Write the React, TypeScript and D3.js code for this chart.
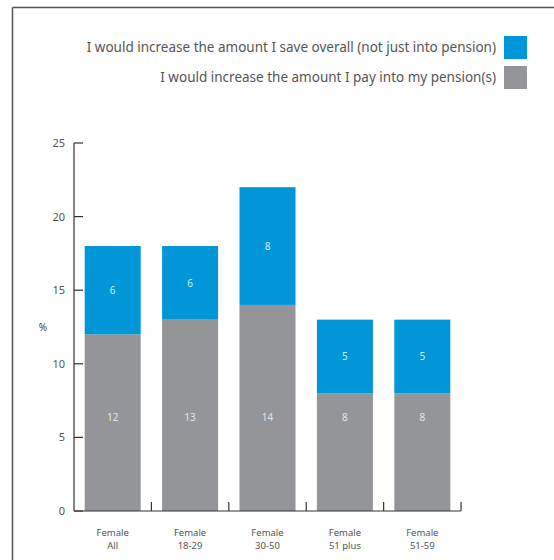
import React from "react";
import * as d3 from "d3";

const categories = ["Female|All", "Female|18-29", "Female|30-50", "Female|51 plus", "Female|51-59"];
// bar heights as drawn in the reference
const payPension = [12, 13, 14, 8, 8];
const saveOverall = [6, 5, 8, 5, 5];
// printed (rounded) labels as shown in the reference
const payLabels = ["12", "13", "14", "8", "8"];
const saveLabels = ["6", "6", "8", "5", "5"];
const yTicks = [0, 5, 10, 15, 20, 25];
const seriesNames = [
  "I would increase the amount I save overall (not just into pension)",
  "I would increase the amount I pay into my pension(s)",
];

const BLUE = "#0096d7";
const GREY = "#939598";
const FONT = "'Noto Sans', sans-serif";

export default function App() {
  const W = 554, H = 560;
  const x0 = 74, x1 = 461, yTop = 143, yBot = 511;
  const x = d3.scaleBand<string>().domain(categories).range([x0, x1]).paddingInner(0.2765).paddingOuter(0.138);
  const y = d3.scaleLinear().domain([0, 25]).range([yBot, yTop]);
  const step = x.step();
  const boundaries = categories.map((_, i) => x0 + step * (i + 1));

  return (
    <svg width={W} height={H} style={{ position: "absolute", left: 0, top: 0, background: "#fff" }} fontFamily={FONT}>
      {/* frame */}
      <line x1={12.5} x2={W} y1={7.5} y2={7.5} stroke="#555" strokeWidth={1.5} />
      <line x1={12.5} x2={12.5} y1={7.5} y2={H} stroke="#555" strokeWidth={1.5} />

      {/* legend */}
      {seriesNames.map((s, i) => (
        <g key={s}>
          <text x={496} y={52 + i * 30} textAnchor="end" fontSize={13.5} fill="#555">{s}</text>
          <rect x={504} y={36 + i * 30} width={23} height={23} fill={i === 0 ? BLUE : GREY} />
        </g>
      ))}

      {/* bars */}
      {categories.map((c, i) => {
        const bx = x(c)!;
        const bw = x.bandwidth();
        const p = payPension[i], s = saveOverall[i];
        return (
          <g key={c}>
            <rect x={bx} y={y(p)} width={bw} height={y(0) - y(p)} fill={GREY} />
            <rect x={bx} y={y(p + s)} width={bw} height={y(p) - y(p + s)} fill={BLUE} />
            <text x={bx + bw / 2} y={y(6.4) + 4} textAnchor="middle" fontSize={10} fill="#e4e4e6">{payLabels[i]}</text>
            <text x={bx + bw / 2} y={(y(p) + y(p + s)) / 2 + 4} textAnchor="middle" fontSize={10} fill="#d4ecfa">{saveLabels[i]}</text>
            {c.split("|").map((t, j) => (
              <text key={j} x={bx + bw / 2} y={535.5 + j * 13} textAnchor="middle" fontSize={9.5} fill="#555">{t}</text>
            ))}
          </g>
        );
      })}

      {/* y axis */}
      <line x1={x0} x2={x0} y1={yTop} y2={yBot} stroke="#333" strokeWidth={1.2} />
      {yTicks.map((t) => (
        <g key={t}>
          <line x1={x0} x2={x0 + 9} y1={y(t)} y2={y(t)} stroke="#333" strokeWidth={1.2} />
          <text x={65} y={y(t) + 4} textAnchor="end" fontSize={11} fill="#555">{t}</text>
        </g>
      ))}
      <text x={43} y={331} textAnchor="middle" fontSize={10} fill="#444">%</text>

      {/* x axis */}
      <line x1={x0} x2={x1} y1={yBot} y2={yBot} stroke="#333" strokeWidth={1.2} />
      {boundaries.map((b, i) => (
        <line key={i} x1={b} x2={b} y1={yBot} y2={yBot - 9} stroke="#333" strokeWidth={1.2} />
      ))}
    </svg>
  );
}
